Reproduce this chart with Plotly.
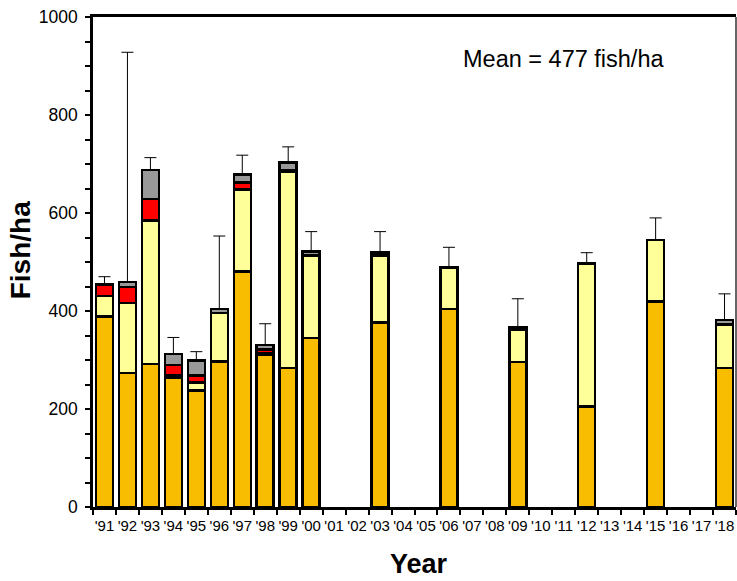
import plotly.graph_objects as go

# ---- data ----
all_years = ["'91", "'92", "'93", "'94", "'95", "'96", "'97", "'98", "'99", "'00",
             "'01", "'02", "'03", "'04", "'05", "'06", "'07", "'08", "'09", "'10",
             "'11", "'12", "'13", "'14", "'15", "'16", "'17", "'18"]
years = ["'91", "'92", "'93", "'94", "'95", "'96", "'97", "'98", "'99", "'00",
         "'03", "'06", "'09", "'12", "'15", "'18"]
orange = [389, 273, 292, 263, 238, 297, 481, 311, 284, 345, 377, 404, 296, 205, 419, 284]
yellow = [42, 143, 293, 5, 16, 99, 167, 3, 400, 168, 136, 85, 66, 292, 126, 88]
red = [23, 33, 44, 22, 14, 0, 14, 7, 3, 0, 0, 0, 0, 0, 0, 0]
gray = [0, 10, 59, 22, 31, 8, 17, 10, 16, 8, 6, 0, 5, 0, 0, 10]
err_top = [470, 928, 713, 346, 317, 553, 718, 374, 735, 562, 562, 530, 425, 519, 590, 435]
mean_text = "Mean = 477 fish/ha"
y_ticks = list(range(0, 1001, 50))
y_labels = [str(v) if v % 200 == 0 else "" for v in y_ticks]

totals = [o + y + r + g for o, y, r, g in zip(orange, yellow, red, gray)]
err_plus = [t - s for t, s in zip(err_top, totals)]

FONT = "Liberation Sans, Arial, sans-serif"
line = dict(color="black", width=2.5)

fig = go.Figure()
for vals, col in [(orange, "#F8BC00"), (yellow, "#FFFF99"), (red, "#FF0000"), (gray, "#999999")]:
    fig.add_trace(go.Bar(x=years, y=vals, marker=dict(color=col, line=line),
                         showlegend=False, hoverinfo="skip"))

fig.add_trace(go.Scatter(
    x=years, y=totals, mode="markers", marker=dict(size=1, color="rgba(0,0,0,0)"),
    error_y=dict(type="data", array=err_plus, arrayminus=[0] * len(years), symmetric=False,
                 color="black", thickness=1, width=6),
    showlegend=False, hoverinfo="skip"))

fig.update_layout(
    width=737, height=581,
    margin=dict(l=93, r=1, t=17, b=74, autoexpand=False),
    barmode="stack", bargap=0.26,
    plot_bgcolor="white", paper_bgcolor="white",
    font=dict(family=FONT, color="black"),
    xaxis=dict(type="category", categoryorder="array", categoryarray=all_years,
               range=[-0.5, 27.5], showline=True, linecolor="black", linewidth=2.5,
               mirror=True, ticks="outside", tickson="boundaries", ticklen=5,
               tickwidth=2, tickcolor="black", tickfont=dict(size=15),
               tickangle=0, automargin=False, ticklabelstandoff=3,
               showgrid=False, zeroline=False, fixedrange=True),
    yaxis=dict(range=[0, 1000], tickvals=y_ticks, ticktext=y_labels,
               showline=True, linecolor="black", linewidth=2.5,
               ticks="outside", ticklen=5, tickwidth=2, tickcolor="black",
               tickfont=dict(size=17.5), showgrid=False, zeroline=False,
               automargin=False, ticklabelstandoff=4),
    shapes=[dict(type="line", xref="paper", yref="paper", x0=1, x1=1, y0=0, y1=1,
                 line=dict(color="#333333", width=1.5))],
    annotations=[
        dict(text=mean_text, xref="paper", yref="y", x=0.573, y=914,
             xanchor="left", yanchor="middle", showarrow=False,
             font=dict(size=23.5, family=FONT)),
        dict(text="Fish/ha", xref="paper", yref="y", x=-0.1135, y=524,
             xanchor="center", yanchor="middle", textangle=-90, showarrow=False,
             font=dict(size=28, family=FONT, weight="bold")),
        dict(text="Year", xref="paper", yref="paper", x=0.507, y=-0.116,
             xanchor="center", yanchor="middle", showarrow=False,
             font=dict(size=27, family=FONT, weight="bold")),
    ],
)

fig.write_html("out.html", config={"displayModeBar": False},
               post_script="document.body.style.margin='0';")
